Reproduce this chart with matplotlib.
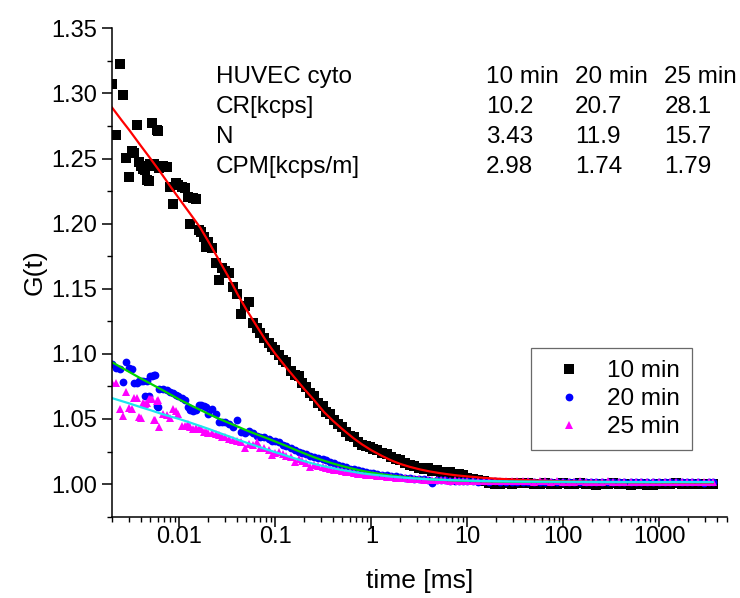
import matplotlib
matplotlib.use("Agg")
import matplotlib.pyplot as plt
from matplotlib.ticker import FixedLocator, FixedFormatter, LogLocator, NullFormatter, MultipleLocator

plt.rcParams['font.family'] = ['Liberation Sans', 'DejaVu Sans']

# lag times of the correlator channels [ms], shared by the three measurements
tau_ms = [0.0020, 0.0022, 0.0024, 0.0026, 0.0028, 0.0030, 0.0032, 0.0034, 0.0036, 0.0038, 0.0040,
          0.0042, 0.0044, 0.0046, 0.0048, 0.0050, 0.0052, 0.0054, 0.0056, 0.0058, 0.0060, 0.0062,
          0.0068, 0.0074, 0.0080, 0.0086, 0.0092, 0.0098, 0.0106, 0.0114, 0.0122, 0.0130,
          0.014, 0.015, 0.016, 0.017, 0.018, 0.019, 0.020, 0.022, 0.024, 0.026, 0.028, 0.030,
          0.033, 0.036, 0.040, 0.044, 0.048, 0.053, 0.058, 0.064, 0.070, 0.077, 0.085, 0.093,
          0.10, 0.11, 0.12, 0.13, 0.145, 0.16, 0.175, 0.19, 0.21, 0.23, 0.25, 0.28, 0.31, 0.34,
          0.37, 0.41, 0.45, 0.50, 0.55, 0.60, 0.66, 0.73, 0.80, 0.88, 0.96,
          1.05, 1.15, 1.3, 1.45, 1.6, 1.8, 2.0, 2.25, 2.5, 2.8, 3.1, 3.5, 3.9, 4.3, 4.8, 5.3,
          5.9, 6.6, 7.4, 8.2, 9.1,
          10, 11.5, 13, 15, 17, 19.5, 22, 25, 29, 33, 38, 43, 50, 57, 65, 75, 86, 100,
          115, 130, 150, 170, 195, 220, 250, 290, 330, 380, 430, 500, 570, 650, 750, 860, 1000,
          1150, 1300, 1500, 1700, 1950, 2200, 2500, 2900, 3300, 3600]

g_10min = [1.3075, 1.2680, 1.3225, 1.2985, 1.2505, 1.2355, 1.2560, 1.2540, 1.2755, 1.2470, 1.2445,
           1.2420, 1.2415, 1.2335, 1.2330, 1.2460, 1.2770, 1.2460, 1.2445, 1.2720, 1.2715, 1.2430,
           1.2440, 1.2435, 1.2285, 1.2150, 1.2310, 1.2295, 1.2280, 1.2275, 1.2205, 1.2000,
           1.2195, 1.2190, 1.1950, 1.1935, 1.1900, 1.1820, 1.1860, 1.1810, 1.1700, 1.1570, 1.1660, 1.1640,
           1.1620, 1.1510, 1.1460, 1.1310, 1.1370, 1.1400, 1.1240, 1.1200, 1.1160, 1.1120, 1.1080, 1.1050,
           1.1030, 1.0990, 1.0950, 1.0935, 1.0870, 1.0840, 1.0830, 1.0780, 1.0745, 1.0700, 1.0680, 1.0625,
           1.0600, 1.0550, 1.0540, 1.0490, 1.0460, 1.0440, 1.0400, 1.0370, 1.0360, 1.0320, 1.0300, 1.0290,
           1.0285,
           1.0270, 1.0265, 1.0240, 1.0235, 1.0210, 1.0190, 1.0185, 1.0160, 1.0150, 1.0140, 1.0125, 1.0115,
           1.0120, 1.0100, 1.0105, 1.0090, 1.0085, 1.0090, 1.0075, 1.0080, 1.0070,
           1.0045, 1.0040, 1.0032, 1.0022, 1.0012, 1.0004, 1.0002, 1.0008, 1.0004, 1.0012, 1.0010, 1.0006,
           1.0004, 1.0002, 1.0007, 1.0003, 1.0000, 1.0005,
           1.0003, 1.0000, 1.0005, 1.0002, 0.9998, 0.9997, 1.0001, 1.0003, 1.0005, 1.0000, 0.9998, 0.9997,
           1.0001, 0.9999, 0.9996, 0.9995, 0.9998, 1.0001, 1.0003, 1.0005, 1.0003, 1.0001, 0.9999, 1.0002,
           1.0004, 1.0003, 1.0001]

g_20min = [1.0926, 1.0890, 1.0887, 1.0785, 1.0940, 1.0888, 1.0885, 1.0780, 1.0777, 1.0790, 1.0795,
           1.0792, 1.0680, 1.0790, 1.0675, 1.0828, 1.0830, 1.0836, 1.0836, 1.0600, 1.0593, 1.0734,
           1.0734, 1.0726, 1.0710, 1.0700, 1.0683, 1.0680, 1.0660, 1.0644, 1.0593, 1.0567,
           1.0560, 1.0567, 1.0610, 1.0610, 1.0598, 1.0590, 1.0540, 1.0580, 1.0537, 1.0478, 1.0480, 1.0478,
           1.0460, 1.0440, 1.0490, 1.0400, 1.0395, 1.0405, 1.0390, 1.0370, 1.0360, 1.0358, 1.0350, 1.0330,
           1.0330, 1.0320, 1.0300, 1.0290, 1.0275, 1.0262, 1.0250, 1.0240, 1.0232, 1.0218, 1.0210, 1.0200,
           1.0190, 1.0184, 1.0168, 1.0160, 1.0150, 1.0140, 1.0130, 1.0118, 1.0115, 1.0105, 1.0100, 1.0092,
           1.0088,
           1.0085, 1.0080, 1.0072, 1.0070, 1.0062, 1.0060, 1.0055, 1.0050, 1.0046, 1.0040, 1.0042, 1.0036,
           1.0035, 1.0012, 1.0033, 1.0028, 1.0030, 1.0026, 1.0027, 1.0024, 1.0025,
           1.0022, 1.0024, 1.0020, 1.0022, 1.0019, 1.0021, 1.0018, 1.0020, 1.0017, 1.0019, 1.0016, 1.0018,
           1.0017, 1.0015, 1.0017, 1.0016, 1.0015, 1.0016,
           1.0016, 1.0015, 1.0016, 1.0014, 1.0015, 1.0016, 1.0014, 1.0015, 1.0013, 1.0015, 1.0014, 1.0016,
           1.0015, 1.0013, 1.0014, 1.0015, 1.0013, 1.0014, 1.0015, 1.0013, 1.0014, 1.0015, 1.0013, 1.0014,
           1.0012, 1.0014, 1.0013]

g_25min = [1.0780, 1.0777, 1.0580, 1.0525, 1.0705, 1.0585, 1.0580, 1.0660, 1.0665, 1.0515, 1.0510,
           1.0620, 1.0614, 1.0624, 1.0650, 1.0650, 1.0655, 1.0496, 1.0490, 1.0640, 1.0645, 1.0435,
           1.0537, 1.0530, 1.0510, 1.0573, 1.0560, 1.0540, 1.0445, 1.0450, 1.0465, 1.0440,
           1.0427, 1.0430, 1.0420, 1.0420, 1.0400, 1.0400, 1.0395, 1.0393, 1.0385, 1.0375, 1.0365, 1.0358,
           1.0350, 1.0342, 1.0332, 1.0320, 1.0275, 1.0310, 1.0300, 1.0320, 1.0280, 1.0275, 1.0260, 1.0225,
           1.0240, 1.0248, 1.0230, 1.0215, 1.0205, 1.0171, 1.0190, 1.0180, 1.0165, 1.0132, 1.0150, 1.0140,
           1.0128, 1.0120, 1.0115, 1.0105, 1.0110, 1.0098, 1.0090, 1.0092, 1.0085, 1.0080, 1.0076, 1.0072,
           1.0070,
           1.0068, 1.0064, 1.0060, 1.0055, 1.0052, 1.0050, 1.0045, 1.0044, 1.0040, 1.0038, 1.0036, 1.0034,
           1.0033, 1.0030, 1.0031, 1.0029, 1.0028, 1.0027, 1.0028, 1.0026, 1.0027,
           1.0025, 1.0027, 1.0024, 1.0026, 1.0023, 1.0025, 1.0022, 1.0024, 1.0021, 1.0023, 1.0021, 1.0022,
           1.0020, 1.0022, 1.0021, 1.0020, 1.0021, 1.0020,
           1.0020, 1.0018, 1.0021, 1.0019, 1.0020, 1.0018, 1.0019, 1.0021, 1.0018, 1.0020, 1.0019, 1.0018,
           1.0020, 1.0019, 1.0017, 1.0019, 1.0018, 1.0020, 1.0018, 1.0019, 1.0017, 1.0018, 1.0019, 1.0017,
           1.0018, 1.0019, 1.0018]

# fitted curves, read at these lag times [ms]
fit_tau = [0.002, 0.0025, 0.003, 0.004, 0.005, 0.0065, 0.008, 0.01, 0.013, 0.0165,
           0.02, 0.025, 0.032, 0.041, 0.05, 0.065, 0.08, 0.1, 0.13, 0.16,
           0.2, 0.25, 0.32, 0.4, 0.5, 0.65, 0.8, 1.0, 1.3, 1.6,
           2.0, 2.5, 3.2, 4.0, 5.0, 6.5, 8.0, 10, 15, 20,
           30, 50, 100, 200, 500, 1000, 3600]
fit_10min = [1.2890, 1.2795, 1.2720, 1.2595, 1.2500, 1.2385, 1.2290, 1.2190, 1.2075, 1.1970,
             1.1865, 1.1740, 1.1600, 1.1450, 1.1340, 1.1205, 1.1100, 1.1000, 1.0895, 1.0815,
             1.0730, 1.0650, 1.0555, 1.0485, 1.0422, 1.0353, 1.0305, 1.0260, 1.0215, 1.0183,
             1.0155, 1.0133, 1.0113, 1.0098, 1.0086, 1.0074, 1.0066, 1.0059, 1.0048, 1.0042,
             1.0035, 1.0028, 1.0022, 1.0018, 1.0015, 1.0014, 1.0013]
fit_20min = [1.0935, 1.0895, 1.0862, 1.0810, 1.0772, 1.0727, 1.0690, 1.0650, 1.0607, 1.0570,
             1.0540, 1.0507, 1.0473, 1.0440, 1.0413, 1.0380, 1.0355, 1.0327, 1.0293, 1.0265,
             1.0236, 1.0208, 1.0180, 1.0158, 1.0138, 1.0117, 1.0102, 1.0088, 1.0075, 1.0066,
             1.0058, 1.0050, 1.0043, 1.0038, 1.0034, 1.0030, 1.0027, 1.0025, 1.0022, 1.0020,
             1.0018, 1.0017, 1.0016, 1.0015, 1.0015, 1.0015, 1.0015]
fit_25min = [1.0660, 1.0638, 1.0620, 1.0590, 1.0568, 1.0540, 1.0520, 1.0500, 1.0472, 1.0446,
             1.0425, 1.0398, 1.0370, 1.0340, 1.0318, 1.0290, 1.0268, 1.0245, 1.0218, 1.0197,
             1.0176, 1.0156, 1.0137, 1.0122, 1.0108, 1.0094, 1.0083, 1.0074, 1.0065, 1.0058,
             1.0052, 1.0046, 1.0041, 1.0037, 1.0034, 1.0031, 1.0029, 1.0027, 1.0024, 1.0022,
             1.0020, 1.0019, 1.0018, 1.0017, 1.0016, 1.0016, 1.0016]

series_labels = ['10 min', '20 min', '25 min']
table_rows = [['HUVEC cyto', '10 min', '20 min', '25 min'],
              ['CR[kcps]', '10.2', '20.7', '28.1'],
              ['N', '3.43', '11.9', '15.7'],
              ['CPM[kcps/m]', '2.98', '1.74', '1.79']]
x_ticks = [0.01, 0.1, 1, 10, 100, 1000]
x_tick_labels = ['0.01', '0.1', '1', '10', '100', '1000']
y_ticks = [1.00, 1.05, 1.10, 1.15, 1.20, 1.25, 1.30, 1.35]

fig = plt.figure(figsize=(7.4, 5.98), dpi=100)
ax = fig.add_axes([0.1516, 0.136, 0.8302, 0.8167])

ax.plot(tau_ms, g_10min, 's', color='black', ms=6.8, mew=0, label=series_labels[0])
ax.plot(tau_ms, g_20min, 'o', color='#0000ff', ms=5.6, mew=0, label=series_labels[1])
ax.plot(tau_ms, g_25min, '^', color='#ff00ff', ms=6.0, mew=0, label=series_labels[2])
ax.plot(fit_tau, fit_10min, '-', color='#ff0000', lw=1.6)
ax.plot(fit_tau, fit_20min, '-', color='#00d400', lw=1.6)
ax.plot(fit_tau, fit_25min, '-', color='#1ee6ee', lw=1.6)

ax.set_xscale('log')
ax.set_xlim(0.002, 5000)
ax.set_ylim(0.975, 1.35)
ax.xaxis.set_major_locator(FixedLocator(x_ticks))
ax.xaxis.set_major_formatter(FixedFormatter(x_tick_labels))
ax.xaxis.set_minor_locator(LogLocator(base=10, subs=range(2, 10), numticks=20))
ax.xaxis.set_minor_formatter(NullFormatter())
ax.yaxis.set_major_locator(FixedLocator(y_ticks))
ax.yaxis.set_major_formatter(FixedFormatter(['%.2f' % v for v in y_ticks]))
ax.yaxis.set_minor_locator(MultipleLocator(0.025))

for side in ['top', 'right']:
    ax.spines[side].set_visible(False)
for side in ['left', 'bottom']:
    ax.spines[side].set_linewidth(1.1)
ax.tick_params(which='major', direction='out', length=7, width=1.1, labelsize=17)
ax.tick_params(axis='x', which='major', pad=-0.5)
ax.tick_params(axis='y', which='major', pad=3.5)
ax.tick_params(which='minor', direction='out', length=3.5, width=1.0)

ax.set_xlabel('time [ms]', fontsize=19, labelpad=15)
ax.set_ylabel('G(t)', fontsize=19, labelpad=4)

col_x = [0.169, 0.608, 0.753, 0.899]
row_y = [0.8875, 0.8262, 0.7648, 0.7035]
for r, row in enumerate(table_rows):
    for c, txt in enumerate(row):
        ax.text(col_x[c], row_y[r], txt, transform=ax.transAxes, fontsize=17.5,
                ha='left', va='baseline')

leg = ax.legend(loc='upper left', bbox_to_anchor=(0.681, 0.3456), fontsize=17.5,
                frameon=True, fancybox=False, borderpad=0.5, handlelength=2.2,
                handletextpad=0.45, labelspacing=0.25, borderaxespad=0)
leg.get_frame().set_edgecolor('#444444')
leg.get_frame().set_linewidth(0.9)

fig.savefig('out.png', dpi=100)
